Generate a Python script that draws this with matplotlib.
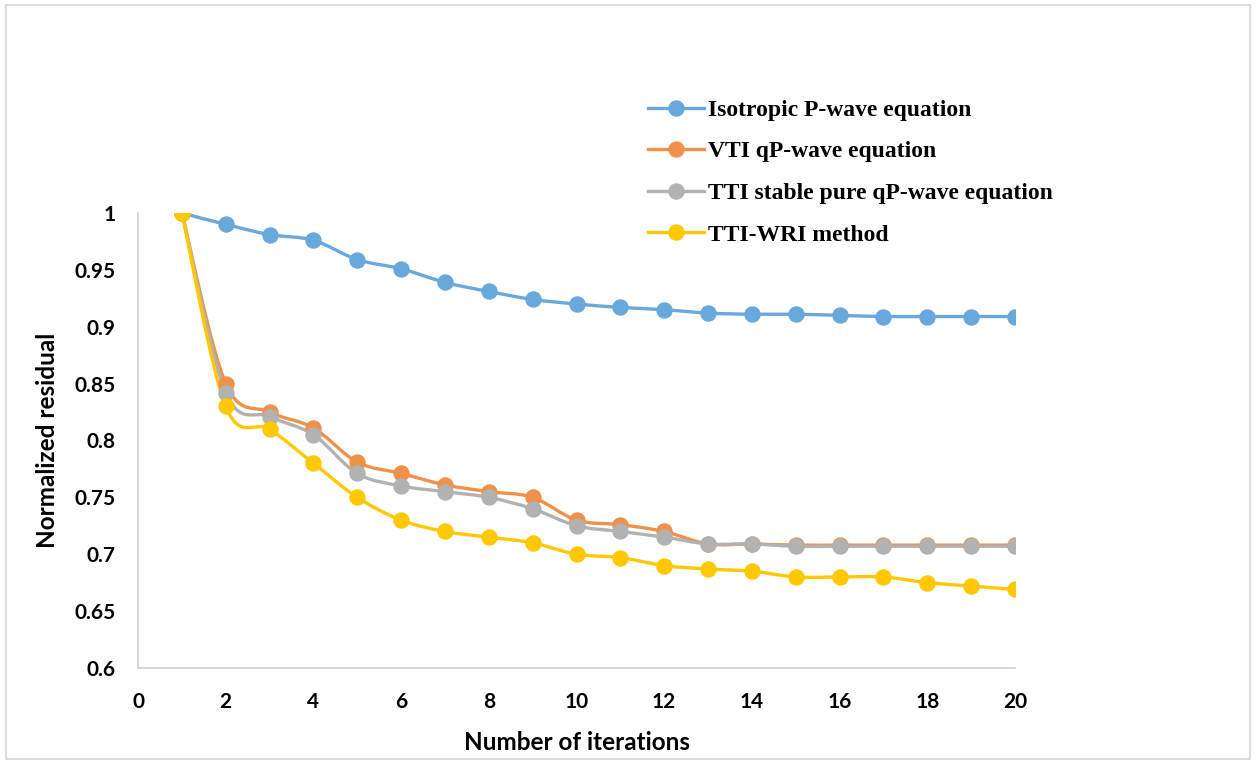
import numpy as np
import matplotlib.pyplot as plt
from matplotlib.path import Path
from matplotlib.patches import PathPatch, Rectangle
from matplotlib.lines import Line2D
from matplotlib.ticker import FuncFormatter, MultipleLocator

iterations = list(range(1, 21))

isotropic = [1.0, 0.990, 0.981, 0.976, 0.959, 0.951, 0.939, 0.931, 0.924, 0.920,
             0.917, 0.915, 0.912, 0.911, 0.911, 0.910, 0.909, 0.909, 0.909, 0.909]
vti = [1.0, 0.850, 0.825, 0.811, 0.781, 0.771, 0.761, 0.755, 0.750, 0.730,
       0.726, 0.720, 0.709, 0.709, 0.708, 0.708, 0.708, 0.708, 0.708, 0.708]
tti_stable = [1.0, 0.842, 0.821, 0.805, 0.771, 0.760, 0.755, 0.750, 0.740, 0.725,
              0.720, 0.715, 0.709, 0.709, 0.707, 0.707, 0.707, 0.707, 0.707, 0.707]
tti_wri = [1.0, 0.830, 0.810, 0.780, 0.750, 0.730, 0.720, 0.715, 0.710, 0.700,
           0.697, 0.690, 0.687, 0.685, 0.680, 0.680, 0.680, 0.675, 0.672, 0.669]

labels = ['Isotropic P-wave equation', 'VTI qP-wave equation',
          'TTI stable pure qP-wave equation', 'TTI-WRI method']
colors = ['#68A8DC', '#F0914A', '#B2B2B2', '#FFC800']
series = [isotropic, vti, tti_stable, tti_wri]

sans = 'Lato'
serif = 'Liberation Serif'


def smooth_path(ax, x, y):
    # Catmull-Rom style bezier through the points, done in display space
    pts = ax.transData.transform(np.column_stack([x, y]))
    verts = [pts[0]]
    codes = [Path.MOVETO]
    n = len(pts)
    for i in range(n - 1):
        p0 = pts[i - 1] if i > 0 else pts[i]
        p1 = pts[i]
        p2 = pts[i + 1]
        p3 = pts[i + 2] if i + 2 < n else pts[i + 1]
        c1 = p1 + (p2 - p0) / 6.0
        c2 = p2 - (p3 - p1) / 6.0
        verts += [c1, c2, p2]
        codes += [Path.CURVE4] * 3
    return Path(verts, codes)


fig = plt.figure(figsize=(12.56, 7.64), dpi=100)
ax = fig.add_axes([0.1099, 0.1257, 0.6982, 0.5955])
ax.set_xlim(0, 20)
ax.set_ylim(0.6, 1.0)

for vals, col in zip(series, colors):
    ax.plot(iterations, vals, ls='none', marker='o', ms=10.8, color=col, zorder=3)

fig.canvas.draw()
for vals, col in zip(series, colors):
    p = smooth_path(ax, np.array(iterations, float), np.array(vals))
    ax.add_patch(PathPatch(p, transform=None, fill=False, edgecolor=col,
                           lw=2.4, zorder=2, capstyle='round', joinstyle='round'))

ax.xaxis.set_major_locator(MultipleLocator(2))
ax.yaxis.set_major_locator(MultipleLocator(0.05))
ax.yaxis.set_major_formatter(FuncFormatter(lambda v, p: '%g' % round(v, 2)))
ax.tick_params(length=0, labelsize=15)
for lab in ax.get_xticklabels() + ax.get_yticklabels():
    lab.set_fontweight('bold')
    lab.set_family(sans)
ax.tick_params(axis='y', pad=16)
ax.tick_params(axis='x', pad=17)

for s in ['top', 'right']:
    ax.spines[s].set_visible(False)
for s in ['left', 'bottom']:
    ax.spines[s].set_color('#D0D0D0')
    ax.spines[s].set_linewidth(1.2)

ax.set_xlabel('Number of iterations', fontsize=17.5, fontweight='bold', family=sans, labelpad=14)
ax.set_ylabel('Normalized residual', fontsize=17.5, fontweight='bold', family=sans, labelpad=11)

handles = [Line2D([], [], color=c, lw=2.4, marker='o', ms=10.8) for c in colors]
fig.legend(handles, labels, loc='upper left', bbox_to_anchor=(0.516, 0.870),
           frameon=False, prop={'family': serif, 'weight': 'bold', 'size': 17},
           borderpad=0, borderaxespad=0,
           handlelength=2.35, handletextpad=0.2, labelspacing=0.85)

fig.add_artist(Rectangle((0.005, 0.006), 0.99, 0.987, transform=fig.transFigure,
                         fill=False, edgecolor='#DDDDDD', lw=1.5))

fig.savefig('out.png', dpi=100)
